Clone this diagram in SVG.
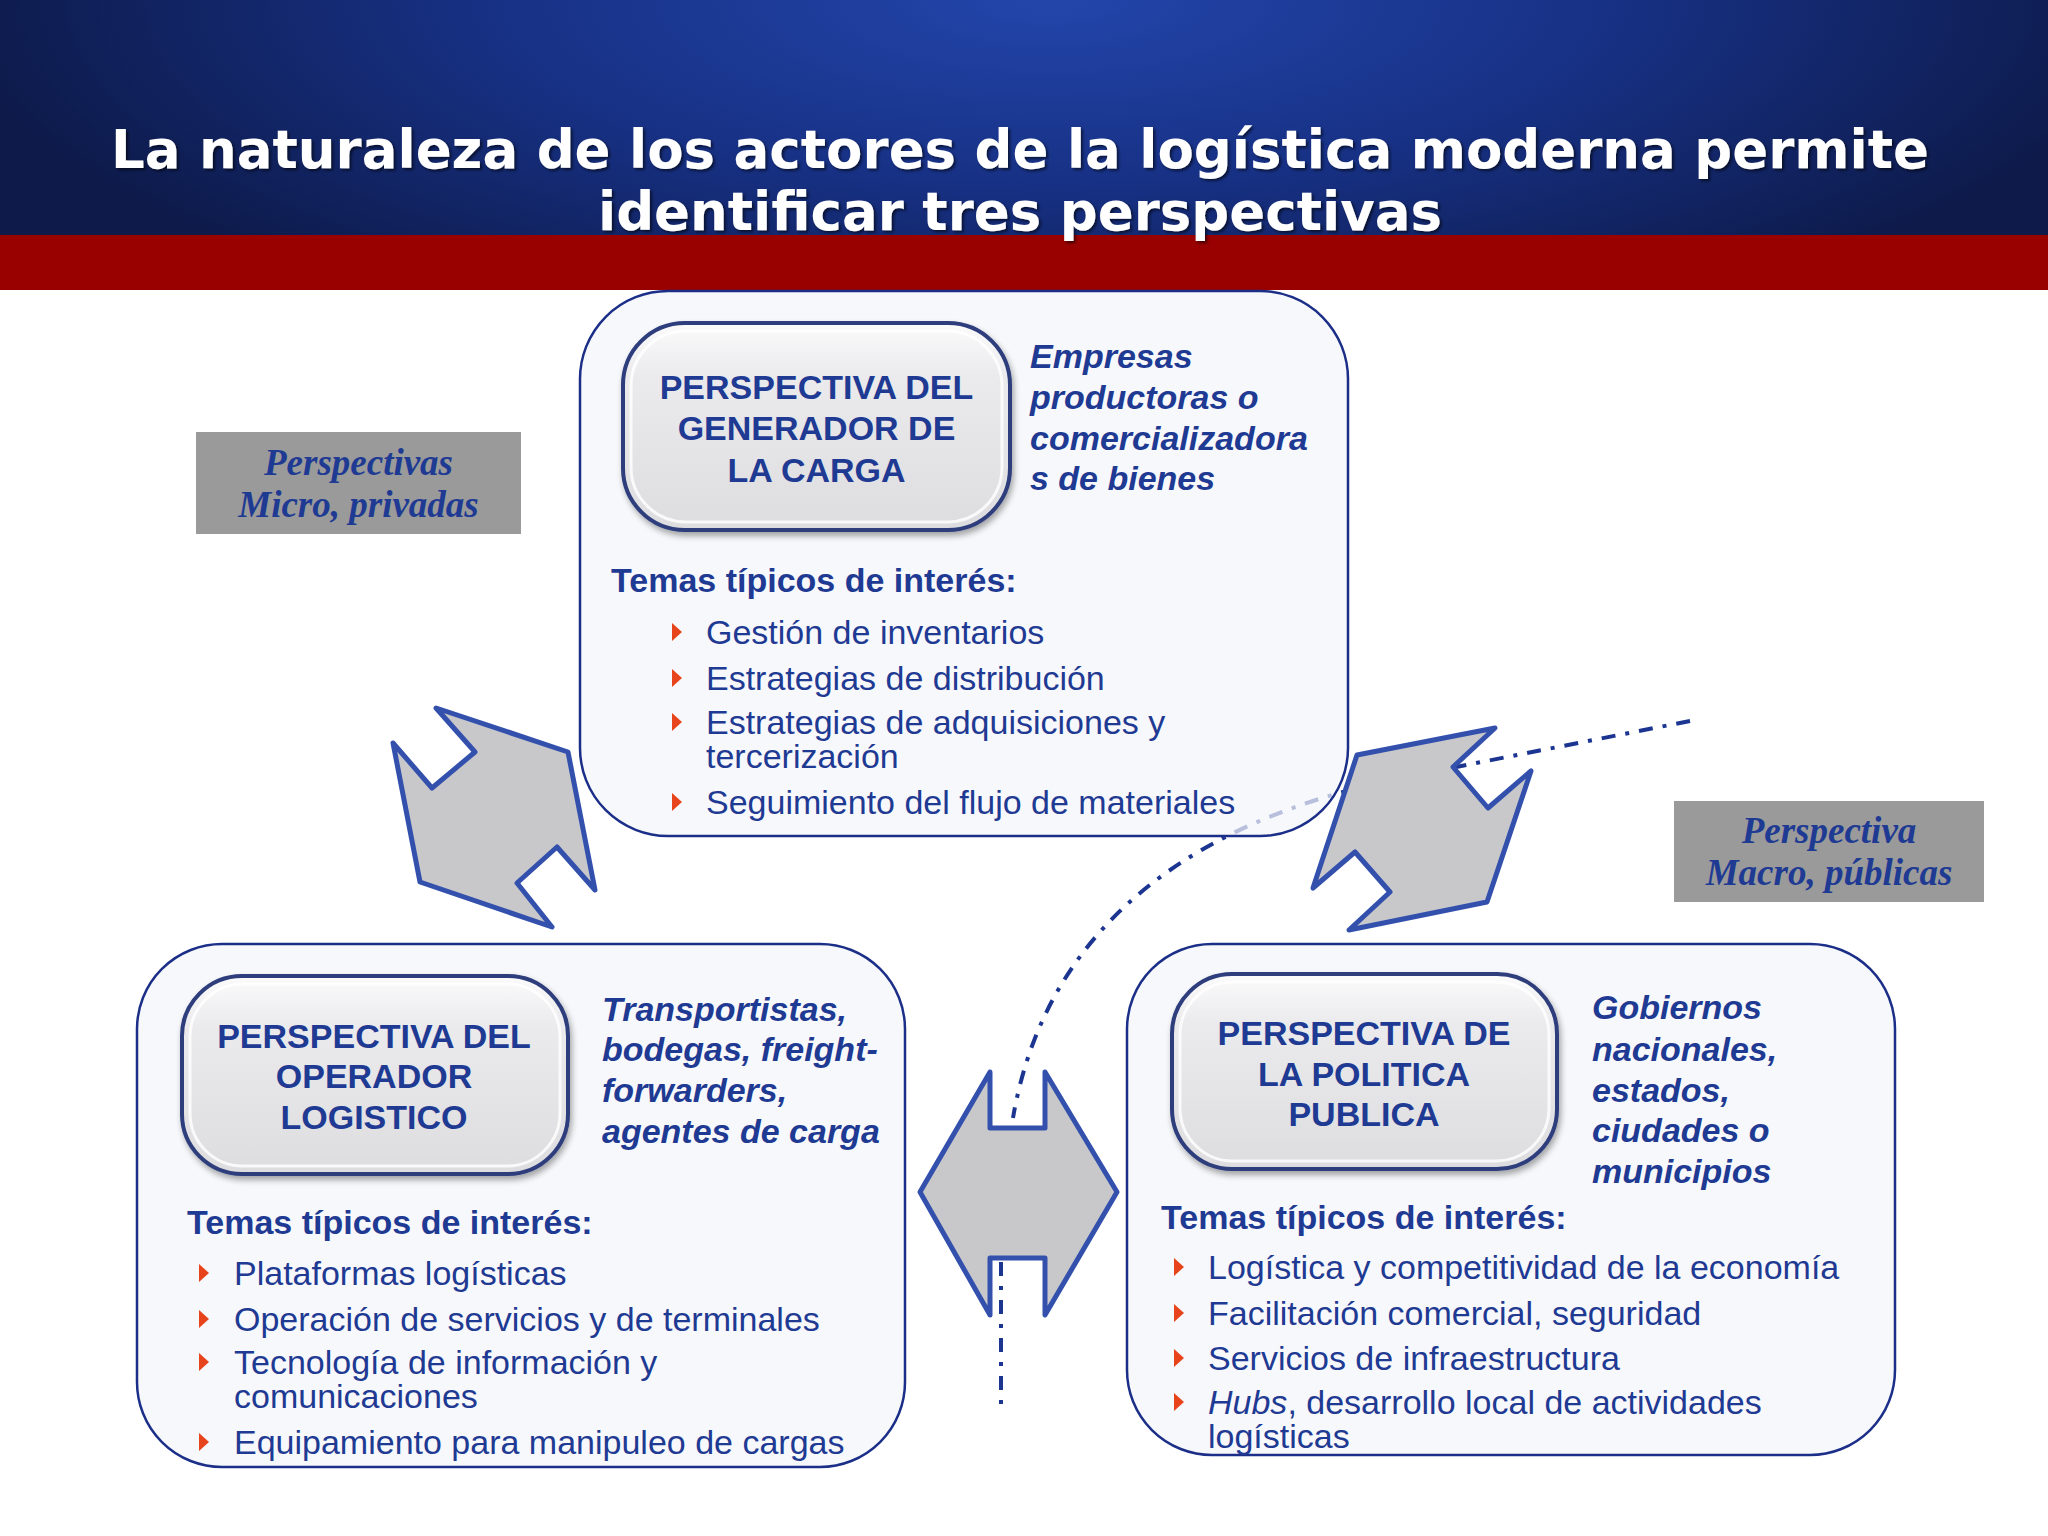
<svg xmlns="http://www.w3.org/2000/svg" width="2048" height="1536" viewBox="0 0 2048 1536">
<defs>
<radialGradient id="hdr" gradientUnits="userSpaceOnUse" cx="1050" cy="0" r="1100" gradientTransform="translate(0,0) scale(1,0.33)">
<stop offset="0" stop-color="#2345ab"/>
<stop offset="0.5" stop-color="#173185"/>
<stop offset="1" stop-color="#0d1a4a"/>
</radialGradient>
<linearGradient id="pillGrad" x1="0" y1="0" x2="0" y2="1">
<stop offset="0" stop-color="#fbfbfc"/>
<stop offset="0.25" stop-color="#ebebed"/>
<stop offset="1" stop-color="#dddde0"/>
</linearGradient>
<filter id="shadow" x="-10%" y="-10%" width="125%" height="130%">
<feGaussianBlur in="SourceAlpha" stdDeviation="3"/>
<feOffset dx="2" dy="4" result="b"/>
<feComponentTransfer><feFuncA type="linear" slope="0.35"/></feComponentTransfer>
<feMerge><feMergeNode/><feMergeNode in="SourceGraphic"/></feMerge>
</filter>
<filter id="tshadow" x="-5%" y="-20%" width="110%" height="150%">
<feGaussianBlur in="SourceAlpha" stdDeviation="1.5"/>
<feOffset dx="2" dy="2"/>
<feComponentTransfer><feFuncA type="linear" slope="0.6"/></feComponentTransfer>
<feMerge><feMergeNode/><feMergeNode in="SourceGraphic"/></feMerge>
</filter>
<style>
.title{font-family:"DejaVu Sans",Verdana,sans-serif;font-weight:bold;font-size:53px;fill:#ffffff;text-anchor:middle}
.pillt{font-family:"Liberation Sans",Arial,sans-serif;font-weight:bold;font-size:34px;fill:#1f3a93;text-anchor:middle}
.who{font-family:"Liberation Sans",Arial,sans-serif;font-weight:bold;font-style:italic;font-size:34px;fill:#1f3a93}
.temas{font-family:"Liberation Sans",Arial,sans-serif;font-weight:bold;font-size:34px;fill:#1f3a93}
.item{font-family:"Liberation Sans",Arial,sans-serif;font-size:34px;fill:#1f3a93}
.lbl{font-family:"Liberation Serif","Times New Roman",serif;font-weight:bold;font-style:italic;font-size:37px;fill:#1f3a93;text-anchor:middle}
.box{fill:#f4f5f9;fill-opacity:0.72;stroke:#1c2f88;stroke-width:2.5}
.pill{fill:url(#pillGrad);stroke:#2d3d7c;stroke-width:4}
.pillhi{fill:none;stroke:#ffffff;stroke-opacity:0.8;stroke-width:3}
.gray{fill:#9a9a9a}
.arrow{fill:#c8c8cb;stroke:#3350ad;stroke-width:5;stroke-linejoin:round}
.bul{fill:#e8441c}
.dash{fill:none;stroke:#1b3591;stroke-width:4;stroke-dasharray:14 10 4 10}
</style>
</defs>
<rect x="0" y="0" width="2048" height="1536" fill="#ffffff"/>
<g id="header">
<rect x="0" y="0" width="2048" height="236" fill="url(#hdr)"/>
<rect x="0" y="235" width="2048" height="55" fill="#990000"/>
<g filter="url(#tshadow)">
<text class="title" x="1020" y="168">La naturaleza de los actores de la logística moderna permite</text>
<text class="title" x="1020" y="230">identificar tres perspectivas</text>
</g>
</g>
<g id="connectors">
<path class="dash" d="M1690,721 L1400,778 C1150,830 1040,960 1013,1118"/>
<path class="dash" d="M1001,1262 L1001,1404"/>
</g>
<g id="label-micro">
<rect class="gray" x="196" y="432" width="325" height="102"/>
<text class="lbl" x="358.5" y="475">Perspectivas</text>
<text class="lbl" x="358.5" y="517">Micro, privadas</text>
</g>
<g id="label-macro">
<rect class="gray" x="1674" y="801" width="310" height="101"/>
<text class="lbl" x="1829" y="843">Perspectiva</text>
<text class="lbl" x="1829" y="885">Macro, públicas</text>
</g>
<g id="node-generador">
<rect class="box" x="580" y="291" width="768" height="545" rx="88"/>
<g filter="url(#shadow)">
<rect class="pill" x="623" y="323" width="387" height="207" rx="62"/>
</g>
<rect class="pillhi" x="631" y="331" width="371" height="191" rx="55"/>
<text class="pillt" x="816.5" y="399">PERSPECTIVA DEL</text>
<text class="pillt" x="816.5" y="440">GENERADOR DE</text>
<text class="pillt" x="816.5" y="482">LA CARGA</text>
<text class="who" x="1030" y="368">Empresas</text>
<text class="who" x="1030" y="409">productoras o</text>
<text class="who" x="1030" y="450">comercializadora</text>
<text class="who" x="1030" y="490">s de bienes</text>
<text class="temas" x="611" y="592">Temas típicos de interés:</text>
<polygon class="bul" points="672,623 672,641 682,632"/>
<text class="item" x="706" y="644">Gestión de inventarios</text>
<polygon class="bul" points="672,669 672,687 682,678"/>
<text class="item" x="706" y="690">Estrategias de distribución</text>
<polygon class="bul" points="672,713 672,731 682,722"/>
<text class="item" x="706" y="734">Estrategias de adquisiciones y</text>
<text class="item" x="706" y="768">tercerización</text>
<polygon class="bul" points="672,793 672,811 682,802"/>
<text class="item" x="706" y="814">Seguimiento del flujo de materiales</text>
</g>
<g id="node-operador">
<rect class="box" x="137" y="944" width="768" height="523" rx="85"/>
<g filter="url(#shadow)">
<rect class="pill" x="182" y="976" width="386" height="198" rx="60"/>
</g>
<rect class="pillhi" x="190" y="984" width="370" height="182" rx="53"/>
<text class="pillt" x="374" y="1048">PERSPECTIVA DEL</text>
<text class="pillt" x="374" y="1088">OPERADOR</text>
<text class="pillt" x="374" y="1129">LOGISTICO</text>
<text class="who" x="602" y="1021">Transportistas,</text>
<text class="who" x="602" y="1061">bodegas, freight-</text>
<text class="who" x="602" y="1102">forwarders,</text>
<text class="who" x="602" y="1143">agentes de carga</text>
<text class="temas" x="187" y="1234">Temas típicos de interés:</text>
<polygon class="bul" points="199,1264 199,1282 209,1273"/>
<text class="item" x="234" y="1285">Plataformas logísticas</text>
<polygon class="bul" points="199,1310 199,1328 209,1319"/>
<text class="item" x="234" y="1331">Operación de servicios y de terminales</text>
<polygon class="bul" points="199,1353 199,1371 209,1362"/>
<text class="item" x="234" y="1374">Tecnología de información y</text>
<text class="item" x="234" y="1408">comunicaciones</text>
<polygon class="bul" points="199,1433 199,1451 209,1442"/>
<text class="item" x="234" y="1454">Equipamiento para manipuleo de cargas</text>
</g>
<g id="node-politica">
<rect class="box" x="1127" y="944" width="768" height="511" rx="85"/>
<g filter="url(#shadow)">
<rect class="pill" x="1172" y="974" width="385" height="195" rx="60"/>
</g>
<rect class="pillhi" x="1180" y="982" width="369" height="179" rx="53"/>
<text class="pillt" x="1364" y="1045">PERSPECTIVA DE</text>
<text class="pillt" x="1364" y="1086">LA POLITICA</text>
<text class="pillt" x="1364" y="1126">PUBLICA</text>
<text class="who" x="1592" y="1019">Gobiernos</text>
<text class="who" x="1592" y="1061">nacionales,</text>
<text class="who" x="1592" y="1102">estados,</text>
<text class="who" x="1592" y="1142">ciudades o</text>
<text class="who" x="1592" y="1183">municipios</text>
<text class="temas" x="1161" y="1229">Temas típicos de interés:</text>
<polygon class="bul" points="1174,1258 1174,1276 1184,1267"/>
<text class="item" x="1208" y="1279">Logística y competitividad de la economía</text>
<polygon class="bul" points="1174,1304 1174,1322 1184,1313"/>
<text class="item" x="1208" y="1325">Facilitación comercial, seguridad</text>
<polygon class="bul" points="1174,1349 1174,1367 1184,1358"/>
<text class="item" x="1208" y="1370">Servicios de infraestructura</text>
<polygon class="bul" points="1174,1393 1174,1411 1184,1402"/>
<text class="item" x="1208" y="1414"><tspan font-style="italic">Hubs</tspan>, desarrollo local de actividades</text>
<text class="item" x="1208" y="1448">logísticas</text>
</g>
<g id="arrow-left">
<polygon class="arrow" points="436,708 568,752 595,890 557,847 517,883 552,927 420,882 393,743 432,788 475,752"/>
</g>
<g id="arrow-right">
<polygon class="arrow" points="1357,755 1495,728 1453,767 1488,808 1531,771 1487,902 1349,930 1390,892 1355,852 1313,888"/>
</g>
<g id="arrow-center">
<polygon class="arrow" points="920,1192 990,1072 990,1128 1045,1128 1045,1072 1117,1192 1045,1315 1045,1258 990,1258 990,1315"/>
</g>
</svg>
